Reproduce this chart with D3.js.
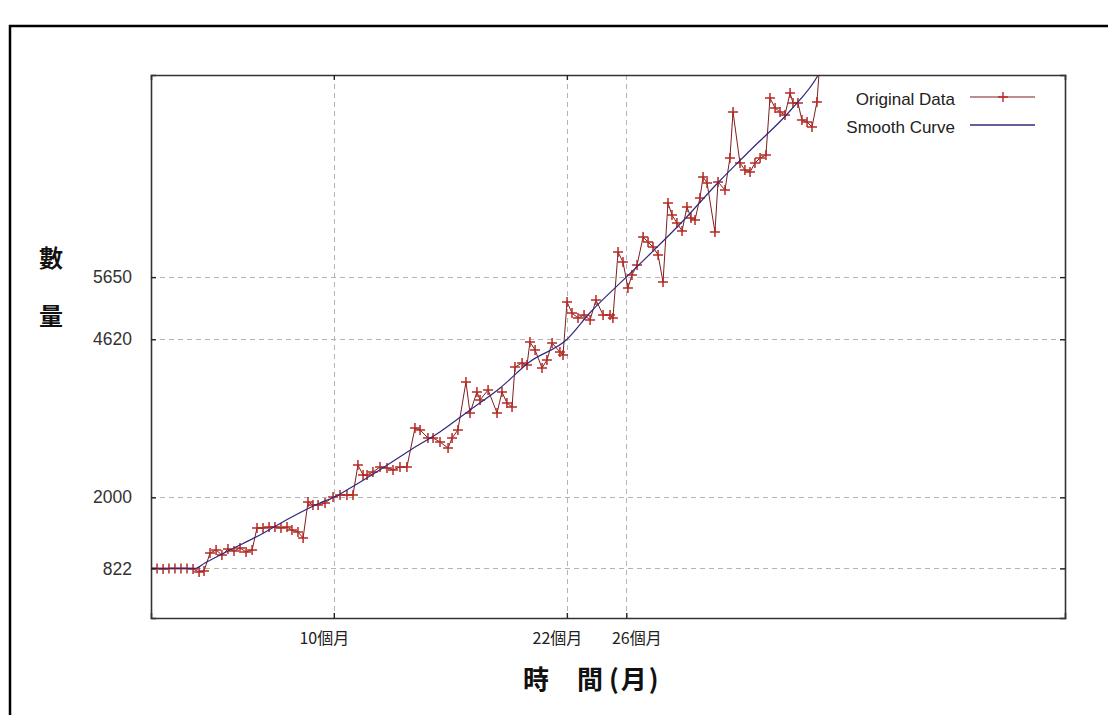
<!DOCTYPE html>
<html>
<head>
<meta charset="utf-8">
<script src="https://cdn.jsdelivr.net/npm/d3@7"></script>
<style>
  html, body { margin: 0; padding: 0; background: #fff; }
  svg { display: block; }
</style>
</head>
<body>
<svg id="chart" width="1108" height="715"></svg>
<script>
// ---- data ----
const dataMonths = [
  0, 0.33, 0.66, 0.98, 1.31, 1.64, 1.97, 2.30, 2.63, 2.90,
  3.23, 3.56, 3.88, 4.21, 4.54, 4.87, 5.20, 5.53, 5.80, 6.13,
  6.46, 6.78, 7.11, 7.44, 7.71, 8.04, 8.32, 8.59, 8.86, 9.14,
  9.52, 9.96, 10.34, 10.72, 11.05, 11.32, 11.60, 11.82, 12.14, 12.53,
  12.91, 13.24, 13.62, 14.00, 14.44, 14.72, 15.15, 15.43, 15.81, 16.25,
  16.47, 16.79, 17.23, 17.45, 17.83, 18.00, 18.44, 18.93, 19.20, 19.47,
  19.75, 19.91, 20.30, 20.57, 20.73, 21.01, 21.39, 21.66, 21.94, 22.37,
  22.54, 22.76, 23.03, 23.36, 23.69, 24.02, 24.34, 24.73, 25.11, 25.27,
  25.55, 25.82, 26.09, 26.31, 26.59, 26.92, 27.19, 27.46, 27.74, 28.01,
  28.28, 28.50, 28.77, 29.05, 29.32, 29.54, 29.76, 30.03, 30.20, 30.42,
  30.85, 31.02, 31.40, 31.67, 31.84, 32.22, 32.49, 32.77, 33.04, 33.32,
  33.64, 33.86, 34.14, 34.41, 34.68, 34.96, 35.12, 35.39, 35.61, 35.89,
  36.16, 36.43, 36.71
];
const dataValues = [
  822, 822, 812, 822, 822, 822, 822, 812, 762, 779,
  1077, 1127, 1044, 1144, 1111, 1160, 1094, 1127, 1492, 1492,
  1508, 1508, 1492, 1508, 1459, 1425, 1326, 1923, 1873, 1873,
  1906, 2006, 2039, 2039, 2039, 2536, 2370, 2370, 2420, 2503,
  2486, 2453, 2503, 2503, 3149, 3116, 2984, 2984, 2917, 2818,
  2984, 3116, 3912, 3398, 3746, 3614, 3779, 3398, 3746, 3564,
  3497, 4160, 4227, 4193, 4575, 4442, 4144, 4276, 4558, 4409,
  4359, 5238, 5055, 4973, 5022, 4939, 5271, 5022, 5022, 4973,
  6066, 5901, 5470, 5685, 5851, 6315, 6232, 6149, 6017, 5569,
  6879, 6680, 6547, 6415, 6813, 6630, 6597, 6962, 7310, 7210,
  6398, 7227, 7094, 7625, 8387, 7541, 7426, 7392, 7541, 7625,
  7674, 8619, 8453, 8387, 8337, 8702, 8536, 8536, 8254, 8221,
  8138, 8553, 9700
];
const smoothMonths = [0, 2.4, 2.95, 4.32, 5.96, 7.6, 9.24, 10.0, 10.9, 12.5, 14.2, 15.8, 17.45, 19.1, 20.7, 22.76, 24.0, 26.0, 27.3, 29.1, 31.0, 32.8, 35.0, 36.5, 37.0];
const smoothValues = [822, 822, 912, 1127, 1376, 1658, 1906, 2000, 2155, 2453, 2785, 3083, 3448, 3812, 4243, 4620, 5055, 5650, 6033, 6580, 7210, 7757, 8420, 9000, 9300];

const yTickValues = [822, 2000, 4620, 5650];
const xTickValues = [10, 22.75, 26];
const xTickLabels = ["10個月", "22個月", "26個月"];
const seriesNames = ["Original Data", "Smooth Curve"];
const yTitleChars = ["數", "量"];
const xTitleParts = ["時", "間", "(月)"];

// ---- layout ----
const plotBox = { left: 151, right: 1065, top: 75, bottom: 618 };
const colData = "#b52a24", colDataLine = "#7d1e1e", colSmooth = "#2f2a7e";

const svg = d3.select("#chart");

// outer frame
svg.append("rect").attr("x", 10).attr("y", 26).attr("width", 1200).attr("height", 800)
  .attr("fill", "none").attr("stroke", "#000").attr("stroke-width", 2.5);

const xs = d3.scaleLinear().domain([0, 50]).range([plotBox.left, plotBox.right]);
const ys = d3.scaleLinear().domain([0, 9000]).range([plotBox.bottom, plotBox.top]);

svg.append("defs").append("clipPath").attr("id", "clip")
  .append("rect").attr("x", plotBox.left).attr("y", plotBox.top)
  .attr("width", plotBox.right - plotBox.left).attr("height", plotBox.bottom - plotBox.top);

// grid
const grid = svg.append("g").attr("stroke", "#b4b4b4").attr("stroke-width", 1).attr("stroke-dasharray", "5,4");
grid.selectAll(".gy").data(yTickValues).join("line").attr("class", "gy")
  .attr("x1", plotBox.left).attr("x2", plotBox.right)
  .attr("y1", d => Math.round(ys(d)) + 0.5).attr("y2", d => Math.round(ys(d)) + 0.5);
grid.selectAll(".gx").data(xTickValues).join("line").attr("class", "gx")
  .attr("y1", plotBox.top).attr("y2", plotBox.bottom)
  .attr("x1", d => Math.round(xs(d)) + 0.5).attr("x2", d => Math.round(xs(d)) + 0.5);

// series
const pts = dataMonths.map((m, i) => [m, dataValues[i]]);
const spts = smoothMonths.map((m, i) => [m, smoothValues[i]]);
const gPlot = svg.append("g").attr("clip-path", "url(#clip)");

gPlot.append("path").datum(pts)
  .attr("fill", "none").attr("stroke", colDataLine).attr("stroke-width", 1)
  .attr("d", d3.line().x(d => xs(d[0])).y(d => ys(d[1])));

const cs = 5;
gPlot.selectAll(".cross").data(pts).join("path").attr("class", "cross")
  .attr("fill", "none").attr("stroke", colData).attr("stroke-width", 1.5)
  .attr("d", d => {
    const px = xs(d[0]), py = ys(d[1]);
    return `M${px - cs},${py}H${px + cs}M${px},${py - cs}V${py + cs}`;
  });

gPlot.append("path").datum(spts)
  .attr("fill", "none").attr("stroke", colSmooth).attr("stroke-width", 1.2)
  .attr("d", d3.line().curve(d3.curveMonotoneX).x(d => xs(d[0])).y(d => ys(d[1])));

// axes
const axisColor = "#333";
const axLeft = svg.append("g").attr("transform", `translate(${plotBox.left},0)`)
  .call(d3.axisLeft(ys).tickValues(yTickValues).tickSize(-5).tickPadding(19).tickFormat(d3.format("d")));
const axRight = svg.append("g").attr("transform", `translate(${plotBox.right},0)`)
  .call(d3.axisRight(ys).tickValues(yTickValues).tickSize(-5).tickFormat(""));
const axBottom = svg.append("g").attr("transform", `translate(0,${plotBox.bottom})`)
  .call(d3.axisBottom(xs).tickValues(xTickValues).tickSize(-5).tickPadding(15)
    .tickFormat((d, i) => xTickLabels[i]));
const axTop = svg.append("g").attr("transform", `translate(0,${plotBox.top})`)
  .call(d3.axisTop(xs).tickValues(xTickValues.slice(0, 2)).tickSize(-5).tickFormat(""));

[axLeft, axRight, axBottom, axTop].forEach(g => {
  g.select(".domain").attr("stroke", axisColor).attr("stroke-width", 1.6);
  g.selectAll(".tick line").attr("stroke", "#222").attr("stroke-width", 1.4);
});
axLeft.selectAll("text").attr("font-family", "Liberation Sans, Arial, sans-serif")
  .attr("font-size", 17.5).attr("fill", "#333");
const labelShift = [-10, -10, 10];
axBottom.selectAll("text").attr("font-family", "Noto Sans CJK TC, sans-serif")
  .attr("font-size", 16).attr("fill", "#222").attr("dx", (d, i) => labelShift[i]);

// axis titles
svg.selectAll(".ytitle").data(yTitleChars).join("text").attr("class", "ytitle")
  .attr("x", 51).attr("y", (d, i) => 258 + i * 58).attr("dy", "0.36em")
  .attr("text-anchor", "middle")
  .attr("font-family", "Noto Sans CJK TC, sans-serif").attr("font-weight", "bold")
  .attr("font-size", 24).attr("fill", "#111").text(d => d);

const xTitleX = [523, 577, 609];
svg.selectAll(".xtitle").data(xTitleParts).join("text").attr("class", "xtitle")
  .attr("x", (d, i) => xTitleX[i]).attr("y", 680).attr("dy", "0.36em")
  .attr("text-anchor", "start")
  .attr("font-family", "Noto Sans CJK TC, sans-serif").attr("font-weight", "bold")
  .attr("font-size", 26).attr("fill", "#111")
  .attr("letter-spacing", (d, i) => i === 2 ? 2 : 0).text(d => d);

// legend
const leg = svg.append("g");
const legY = [99, 127];
leg.selectAll("text").data(seriesNames).join("text")
  .attr("x", 955).attr("y", (d, i) => legY[i]).attr("dy", "0.36em")
  .attr("text-anchor", "end")
  .attr("font-family", "Liberation Sans, Arial, sans-serif")
  .attr("font-size", 17).attr("fill", "#222").text(d => d);
leg.append("line").attr("x1", 970).attr("x2", 1035).attr("y1", legY[0] - 2).attr("y2", legY[0] - 2)
  .attr("stroke", colDataLine).attr("stroke-width", 1.2);
leg.append("path").attr("fill", "none").attr("stroke", colData).attr("stroke-width", 1.4)
  .attr("d", `M${1003 - cs},${legY[0] - 2}H${1003 + cs}M1003,${legY[0] - 2 - cs}V${legY[0] - 2 + cs}`);
leg.append("line").attr("x1", 970).attr("x2", 1035).attr("y1", legY[1] - 2).attr("y2", legY[1] - 2)
  .attr("stroke", colSmooth).attr("stroke-width", 1.3);
</script>
</body>
</html>
